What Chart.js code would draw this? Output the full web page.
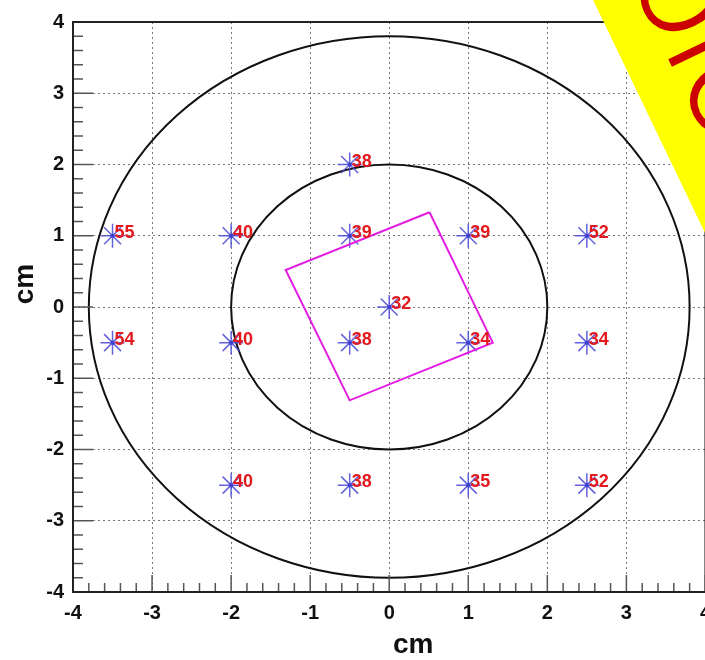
<!DOCTYPE html>
<html>
<head>
<meta charset="utf-8">
<script src="https://cdn.jsdelivr.net/npm/chart.js@4/dist/chart.umd.min.js"></script>
<style>
  html, body { margin: 0; padding: 0; background: #fff; overflow: hidden; }
  #wrap { width: 720px; height: 660px; }
</style>
</head>
<body>
<div id="wrap"><canvas id="c" width="720" height="660"></canvas></div>
<script>
// Probe positions (cm) and the value read at each probe
const probeX = [-0.5, -3.5, -2, -0.5, 1, 2.5, 0, -3.5, -2, -0.5, 1, 2.5, -2, -0.5, 1, 2.5];
const probeY = [2, 1, 1, 1, 1, 1, 0, -0.5, -0.5, -0.5, -0.5, -0.5, -2.5, -2.5, -2.5, -2.5];
const probeValue = [38, 55, 40, 39, 39, 52, 32, 54, 40, 38, 34, 34, 40, 38, 35, 52];

// Corners of the rotated square outline (cm)
const squareX = [0.51, 1.31, -0.50, -1.31];
const squareY = [1.33, -0.50, -1.31, 0.52];

// Concentric circles around the origin, radius in cm
const circleRadii = [2, 3.8];

// Axes
const tickValues = [-4, -3, -2, -1, 0, 1, 2, 3, 4];
const axisMin = -4, axisMax = 4;
const minorPerMajor = 5;
const axisTitle = 'cm';
const bannerText = 'Color';

const FONT = '"Liberation Sans", Arial, Helvetica, sans-serif';

const probePoints = probeX.map((x, i) => ({ x, y: probeY[i] }));
const squarePoints = squareX.map((x, i) => ({ x, y: squareY[i] }));
squarePoints.push({ x: squareX[0], y: squareY[0] });

const isEdge = v => v === axisMin || v === axisMax;

// Circles drawn through the scales, so they follow the axis aspect
const circlesPlugin = {
  id: 'circles',
  beforeDatasetsDraw(chart) {
    const { ctx, chartArea: a } = chart;
    const xs = chart.scales.x, ys = chart.scales.y;
    const cx = xs.getPixelForValue(0), cy = ys.getPixelForValue(0);
    ctx.save();
    ctx.beginPath();
    ctx.rect(a.left, a.top, a.width, a.height);
    ctx.clip();
    ctx.strokeStyle = '#111';
    ctx.lineWidth = 2;
    circleRadii.forEach(r => {
      const rx = xs.getPixelForValue(r) - cx;
      const ry = cy - ys.getPixelForValue(r);
      ctx.beginPath();
      ctx.ellipse(cx, cy, rx, ry, 0, 0, Math.PI * 2);
      ctx.stroke();
    });
    ctx.restore();
  }
};

// Inward tick marks, plot frame, value labels and axis titles
const framePlugin = {
  id: 'frameTicks',
  afterDatasetsDraw(chart) {
    const { ctx, chartArea: a } = chart;
    const xs = chart.scales.x, ys = chart.scales.y;

    // value labels next to each probe
    const meta = chart.getDatasetMeta(1);
    ctx.save();
    ctx.font = 'bold 18px ' + FONT;
    ctx.fillStyle = '#e3191d';
    ctx.textAlign = 'left';
    ctx.textBaseline = 'alphabetic';
    meta.data.forEach((pt, i) => {
      ctx.fillText(String(probeValue[i]), pt.x + 2, pt.y + 2);
    });
    ctx.restore();

    // ticks
    ctx.save();
    ctx.strokeStyle = '#555';
    ctx.lineWidth = 1.5;
    const n = (axisMax - axisMin) * minorPerMajor;
    for (let i = 0; i <= n; i++) {
      const v = axisMin + i / minorPerMajor;
      const major = i % minorPerMajor === 0;
      const px = xs.getPixelForValue(v);
      const py = ys.getPixelForValue(v);
      ctx.beginPath();
      ctx.moveTo(px, a.bottom);
      ctx.lineTo(px, a.bottom - (major ? 17 : 9));
      ctx.stroke();
      ctx.beginPath();
      ctx.moveTo(a.left, py);
      ctx.lineTo(a.left + (major ? 20 : 10), py);
      ctx.stroke();
    }
    // frame
    ctx.strokeStyle = '#222';
    ctx.lineWidth = 2;
    ctx.strokeRect(a.left, a.top, a.width, a.height);
    ctx.restore();

    // axis titles
    ctx.save();
    ctx.font = 'bold 28px ' + FONT;
    ctx.fillStyle = '#111';
    ctx.textAlign = 'center';
    ctx.textBaseline = 'alphabetic';
    ctx.fillText(axisTitle, a.left + a.width / 2 + 24, 653);
    ctx.translate(33, a.top + a.height / 2 - 23);
    ctx.rotate(-Math.PI / 2);
    ctx.fillText(axisTitle, 0, 0);
    ctx.restore();
  },
  afterDraw(chart) {
    // yellow corner banner with slanted lettering
    const { ctx } = chart;
    const ang = Math.atan2(233, 112);
    const size = 145;
    ctx.save();
    ctx.translate(670, 63);
    ctx.rotate(ang);
    ctx.fillStyle = '#ffff00';
    ctx.fillRect(-400, -320, 1000, 362);
    ctx.font = '300 ' + size + 'px Roboto, "Liberation Sans", Arial, sans-serif';
    ctx.fillStyle = '#cc0000';
    ctx.textBaseline = 'alphabetic';
    const pre = ctx.measureText(bannerText.slice(0, 2)).width;
    const half = ctx.measureText(bannerText.charAt(2)).width / 2;
    ctx.fillText(bannerText, -pre - half, 0);
    ctx.restore();
  }
};

const tickFont = { family: FONT, size: 20, weight: 'bold' };
const gridColor = c => (c.tick && isEdge(c.tick.value)) ? 'rgba(0,0,0,0)' : '#777';

new Chart(document.getElementById('c'), {
  type: 'scatter',
  data: {
    datasets: [
      {
        type: 'line',
        data: squarePoints,
        borderColor: '#e21ee2',
        borderWidth: 2,
        pointRadius: 0,
        fill: false,
        tension: 0
      },
      {
        data: probePoints,
        pointStyle: 'star',
        pointRadius: 12,
        borderColor: 'rgba(72,72,215,0.85)',
        borderWidth: 1.5,
        backgroundColor: 'rgba(0,0,0,0)'
      },
      {
        data: probePoints,
        pointStyle: 'circle',
        pointRadius: 2,
        backgroundColor: '#1a1aa0',
        borderWidth: 0
      }
    ]
  },
  options: {
    responsive: false,
    animation: false,
    devicePixelRatio: 1,
    layout: { padding: { top: 22, right: 14, bottom: 0, left: 0 } },
    plugins: { legend: { display: false }, tooltip: { enabled: false } },
    scales: {
      x: {
        type: 'linear',
        min: axisMin, max: axisMax,
        afterFit(s) { s.height = 68; },
        afterBuildTicks(s) { s.ticks = tickValues.map(v => ({ value: v })); },
        ticks: { autoSkip: false, maxRotation: 0, padding: 9, font: tickFont, color: '#111' },
        grid: { drawTicks: false, color: gridColor, lineWidth: 1 },
        border: { display: false, dash: [2, 3] }
      },
      y: {
        type: 'linear',
        min: axisMin, max: axisMax,
        afterFit(s) { s.width = 73; },
        afterBuildTicks(s) { s.ticks = tickValues.map(v => ({ value: v })); },
        ticks: { autoSkip: false, padding: 9, font: tickFont, color: '#111' },
        grid: { drawTicks: false, color: gridColor, lineWidth: 1 },
        border: { display: false, dash: [2, 3] }
      }
    }
  },
  plugins: [circlesPlugin, framePlugin]
});
</script>
</body>
</html>
